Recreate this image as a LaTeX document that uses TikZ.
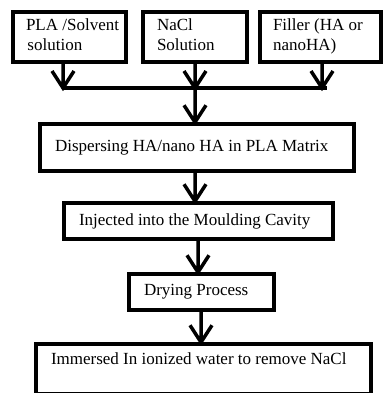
\documentclass[tikz,border=0pt]{standalone}
\usepackage{fontspec}
\setmainfont{Liberation Serif}
\begin{document}
\begin{tikzpicture}[x=1pt,y=-1pt,
  box/.style={draw, line width=3.5pt, inner ysep=0pt, font=\fontsize{17}{20}\selectfont},
  % downward connector ending in an open V head
  flow/.style={line width=3.5pt, line join=miter,
    to path={-- (\tikztotarget) (\tikztotarget) ++(-11,-17) -- (\tikztotarget) -- ++(11,-17)}},
  bar/.style={line width=4pt}]
\useasboundingbox (0,0) rectangle (383,393);
\clip (0,0) rectangle (383,393);
\fill[white] (0,0) rectangle (383,393);

% inputs
\node[box, minimum width=113pt, minimum height=50pt, inner xsep=13pt] (b1) at (69.5,37)
  {\makebox[87pt][l]{\begin{tabular}{@{}l@{}}PLA /Solvent\\\hspace*{1.5pt}solution\end{tabular}}};
\node[box, minimum width=104pt, minimum height=50pt, inner xsep=14pt] (b2) at (195,37)
  {\makebox[76pt][l]{\begin{tabular}{@{}l@{}}NaCl\\Solution\end{tabular}}};
\node[box, minimum width=121pt, minimum height=50pt, inner xsep=13pt] (b3) at (320.5,37)
  {\makebox[95pt][l]{\begin{tabular}{@{}l@{}}Filler (HA or\\nanoHA)\end{tabular}}};

% process steps
\node[box, minimum width=314pt, minimum height=47pt, inner xsep=15pt] (b4) at (197,147.5)
  {\makebox[284pt][l]{Dispersing HA/nano HA in PLA Matrix}};
\node[box, minimum width=269pt, minimum height=36pt, inner xsep=15pt] (b5) at (198.5,221)
  {\makebox[239pt][l]{Injected into the Moulding Cavity}};
\node[box, minimum width=145pt, minimum height=36pt, inner xsep=15pt] (b6) at (201.5,292)
  {\makebox[115pt][l]{Drying Process}};
\node[box, minimum width=335pt, minimum height=50pt, inner xsep=15pt] (b7) at (203.5,369)
  {\makebox[305pt][l]{\rule[-21pt]{0pt}{21pt}Immersed In ionized water to remove NaCl}};

% junction bar
\coordinate (j1) at (63,88);
\coordinate (j2) at (195,88);
\coordinate (j3) at (322,88);
\coordinate (jend) at (327,88);
\coordinate (k1) at (195,0);
\coordinate (k2) at (198,0);
\coordinate (k3) at (201,0);

\draw[bar] (j1) -- (jend);
\draw[flow] (b1.south -| j1) to (j1);
\draw[flow] (b2.south -| j2) to (j2);
\draw[flow] (b3.south -| j3) to (j3);
\draw[flow] (j2) to (j2 |- b4.north);
\draw[flow] (b4.south -| k1) to (b5.north -| k1);
\draw[flow] (b5.south -| k2) to (b6.north -| k2);
\draw[flow] (b6.south -| k3) to (b7.north -| k3);
\end{tikzpicture}
\end{document}
